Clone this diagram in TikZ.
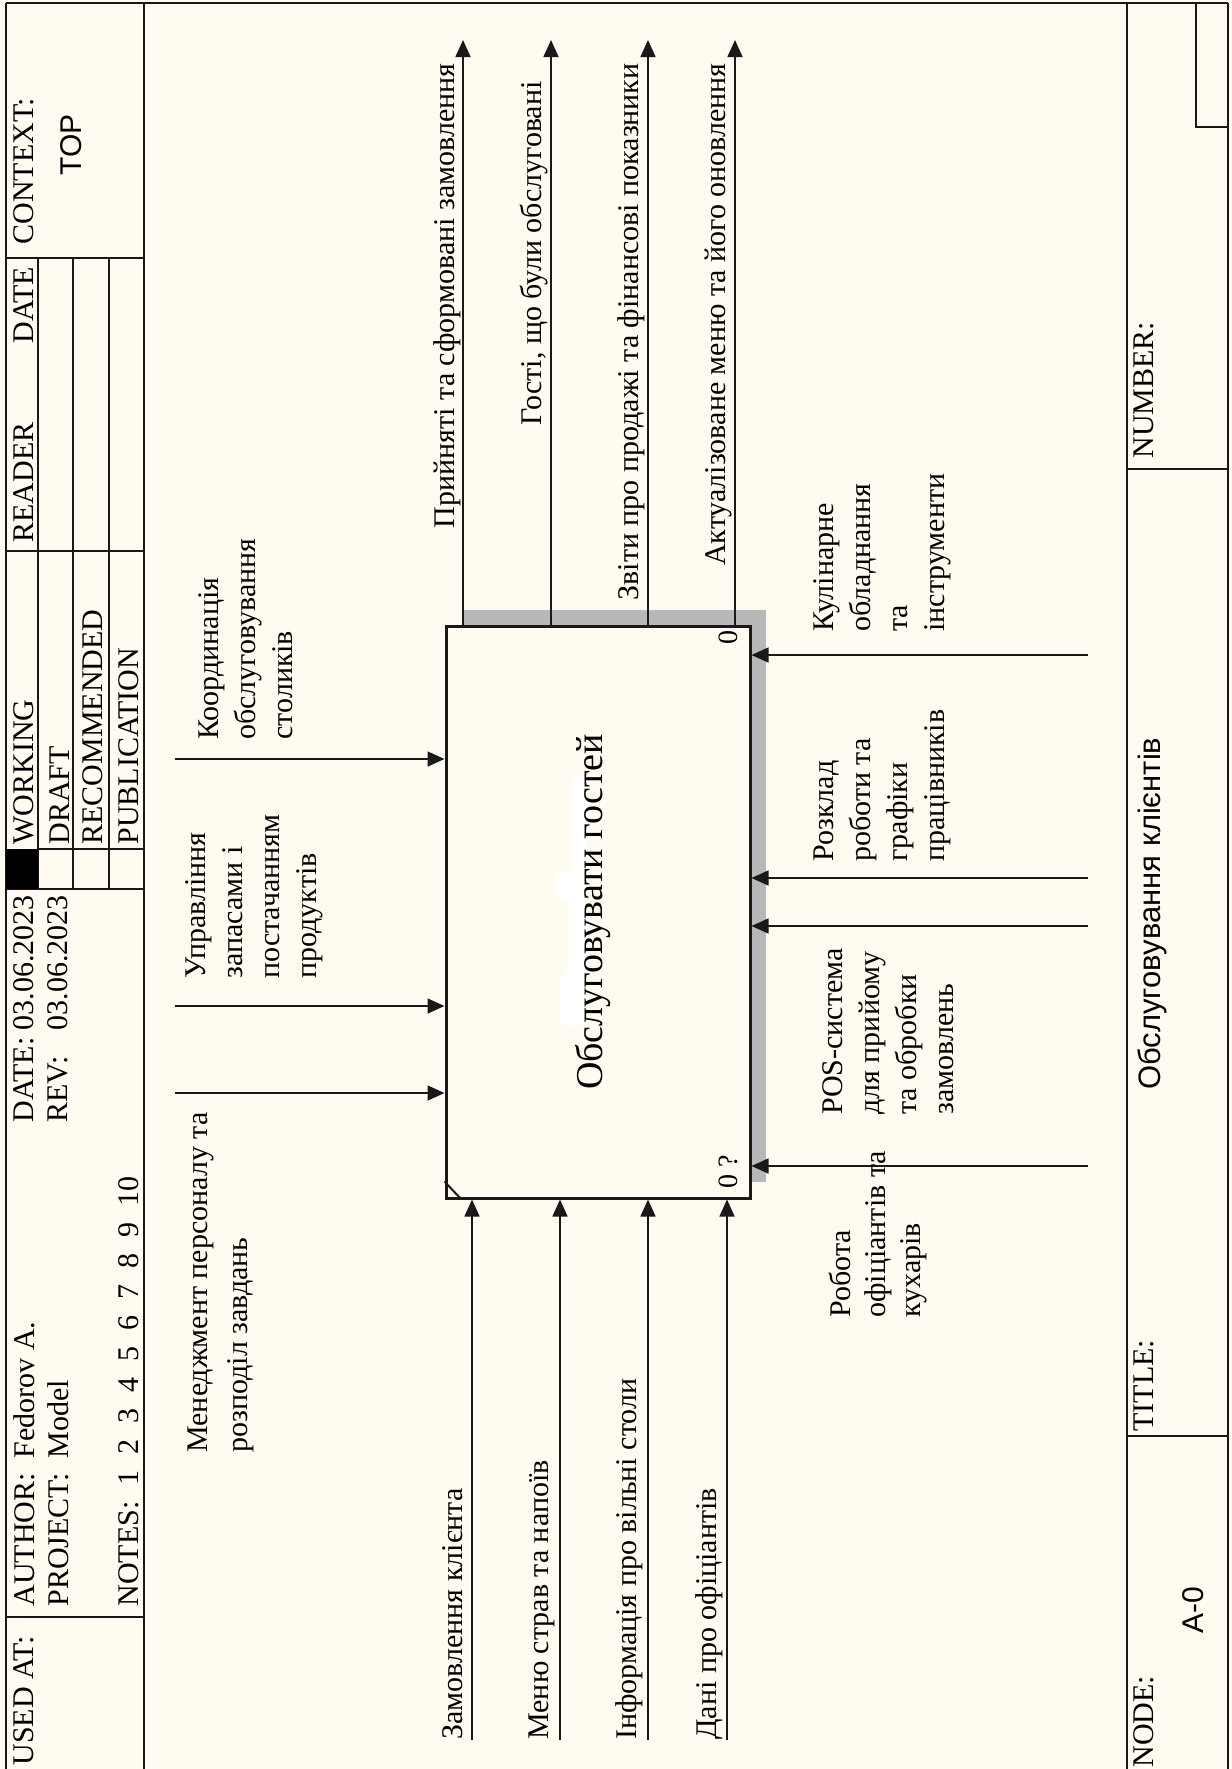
\documentclass[tikz,border=0pt]{standalone}
\usepackage{fontspec}
\setmainfont{Liberation Serif}
\setsansfont{Liberation Sans}
\usetikzlibrary{arrows.meta}
\definecolor{bg}{RGB}{255,251,240}
\definecolor{ln}{RGB}{25,25,25}
\begin{document}
\begin{tikzpicture}[x=0.5pt,y=-0.5pt,
  frame/.style={draw=ln, line width=1pt},
  arr/.style={draw=ln, line width=0.8pt, -{Triangle[length=8.5pt,width=7.5pt]}},
  lbl/.style={rotate=90, inner sep=0pt, align=left, font=\fontsize{15pt}{18.5pt}\selectfont},
  hdr/.style={rotate=90, inner sep=0pt, align=left, anchor=north west, font=\fontsize{15pt}{17pt}\selectfont},
  sanslbl/.style={rotate=90, inner sep=0pt, anchor=north west, font=\sffamily\fontsize{15pt}{18pt}\selectfont},
  corner/.style={rotate=90, inner sep=0pt, anchor=north west, font=\fontsize{14pt}{16pt}\selectfont}]
\useasboundingbox (0,0) rectangle (1232,1769);
\fill[bg] (0,0) rectangle (1232,1769);

% frame
\draw[frame] (6,3) -- (1228,3);
\draw[frame] (6,3) -- (6,1769);
\draw[frame] (1228,3) -- (1228,1769);
\draw[frame] (144,3) -- (144,1769);
\draw[frame] (6,258) -- (144,258);
\draw[frame] (6,551) -- (144,551);
\draw[frame] (38,258) -- (38,889);
\draw[frame] (73,258) -- (73,889);
\draw[frame] (109,258) -- (109,889);
\draw[frame] (38,849) -- (144,849);
\draw[frame] (6,889) -- (144,889);
\fill[black] (6,849) rectangle (38,889);
\draw[frame] (6,1617) -- (144,1617);
\draw[frame] (1127,3) -- (1127,1769);
\draw[frame] (1196,3) -- (1196,127) -- (1228,127);
\draw[frame] (1127,469) -- (1228,469);
\draw[frame] (1127,1436) -- (1228,1436);

% header texts
\node[hdr] (hctx) at (13,245) {CONTEXT:};
\node[sanslbl] (htop) at (60,176) {TOP};
\node[hdr] (hdate) at (13,344) {DATE};
\node[hdr] (hreader) at (13,543) {READER};
\node[hdr] (hwork) at (13,845) {WORKING};
\node[hdr] (hdraft) at (49,845) {DRAFT};
\node[hdr] (hrec) at (82,845) {RECOMMENDED};
\node[hdr] (hpub) at (118,845) {PUBLICATION};
\node[hdr] (hdates) at (13,1123) {DATE:\ 03.06.2023\\\rlap{REV:}\phantom{DATE:}\ 03.06.2023};
\node[hdr] (hauth) at (13,1607) {AUTHOR:\ \ Fedorov A.\\PROJECT:\ \ Model};
\node[hdr] (hnotes) at (118,1607) {NOTES:\hspace{8pt}1\hspace{8pt}2\hspace{8pt}3\hspace{8pt}4\hspace{8pt}5\hspace{8pt}6\hspace{8pt}7\hspace{8pt}8\hspace{8pt}9\hspace{8pt}10};
\node[hdr] (hused) at (13,1766) {USED AT:};
\node[hdr] (hnum) at (1133,459) {NUMBER:};
\node[hdr] (htitle) at (1133,1432) {TITLE:};
\node[hdr] (hnode) at (1133,1768) {NODE:};
\node[sanslbl, font=\sffamily\fontsize{15.5pt}{18pt}\selectfont] (htitletext) at (1137,1090) {Обслуговування клієнтів};
\node[sanslbl] (hnodeid) at (1182,1634) {A-0};

% activity box
\fill[black!28] (462,610) rectangle (766,1182);
\node[draw=ln, line width=1.5pt, fill=bg, minimum width=152pt, minimum height=286pt, inner sep=0pt] (box) at (598,912) {};
\draw[ln, line width=1pt] ([yshift=9pt]box.south west) -- ([xshift=8.5pt]box.south west);
\fill[white, rounded corners=3pt] (572,776) -- (587,776) -- (587,1000) -- (583,1026) -- (560,1026) -- (560,975) -- (567,975) -- (567,899) -- (555,899) -- (555,872) -- (572,872) -- cycle;
\node[rotate=90, anchor=base, inner sep=0pt, font=\fontsize{19pt}{22pt}\selectfont] (boxlbl) at (602,912) {Обслуговувати гостей};
\node[corner] (n0) at (718,645) {0};
\node[corner] (n0q) at (718,1189) {0 ?};

% outputs
\coordinate (o1) at (463,40);
\coordinate (o2) at (551,40);
\coordinate (o3) at (648,40);
\coordinate (o4) at (735,40);
\draw[arr] (box.north -| o1) -- (o1);
\draw[arr] (box.north -| o2) -- (o2);
\draw[arr] (box.north -| o3) -- (o3);
\draw[arr] (box.north -| o4) -- (o4);
\node[lbl, anchor=north east] (lo1) at (433,63) {Прийняті та сформовані замовлення};
\node[lbl, anchor=north east] (lo2) at (520,81) {Гості, що були обслуговані};
\node[lbl, anchor=north east] (lo3) at (617,63) {Звіти про продажі та фінансові показники};
\node[lbl, anchor=north east] (lo4) at (705,63) {Актуалізоване меню та його оновлення};

% inputs
\coordinate (i1) at (472,1740);
\coordinate (i2) at (560,1740);
\coordinate (i3) at (648,1740);
\coordinate (i4) at (727,1740);
\draw[arr] (i1) -- (i1 |- box.south);
\draw[arr] (i2) -- (i2 |- box.south);
\draw[arr] (i3) -- (i3 |- box.south);
\draw[arr] (i4) -- (i4 |- box.south);
\node[lbl, anchor=north west] (li1) at (442,1740) {Замовлення клієнта};
\node[lbl, anchor=north west] (li2) at (528,1740) {Меню страв та напоїв};
\node[lbl, anchor=north west] (li3) at (615,1740) {Інформація про вільні столи};
\node[lbl, anchor=north west] (li4) at (695,1740) {Дані про офіціантів};

% controls
\coordinate (c1) at (175,759);
\coordinate (c2) at (175,1006);
\coordinate (c3) at (175,1093);
\draw[arr] (c1) -- (c1 -| box.west);
\draw[arr] (c2) -- (c2 -| box.west);
\draw[arr] (c3) -- (c3 -| box.west);
\node[lbl, anchor=north west] (lc1) at (198,740) {Координація\\обслуговування\\столиків};
\node[lbl, anchor=north west] (lc2) at (185,979) {Управління\\запасами і\\постачанням\\продуктів};
\node[lbl, anchor=north west, font=\fontsize{15pt}{20pt}\selectfont] (lc3) at (187,1453) {Менеджмент персоналу та\\розподіл завдань};

% mechanisms
\coordinate (m1) at (1088,655);
\coordinate (m2) at (1088,878);
\coordinate (m3) at (1088,926);
\coordinate (m4) at (1088,1166);
\draw[arr] (m1) -- (m1 -| box.east);
\draw[arr] (m2) -- (m2 -| box.east);
\draw[arr] (m3) -- (m3 -| box.east);
\draw[arr] (m4) -- (m4 -| box.east);
\node[lbl, anchor=north west] (lm1) at (813,632) {Кулінарне\\обладнання\\та\\інструменти};
\node[lbl, anchor=north west] (lm2) at (813,862) {Розклад\\роботи та\\графіки\\працівників};
\node[lbl, anchor=north west] (lm3) at (822,1115) {POS-система\\для прийому\\та обробки\\замовлень};
\node[lbl, anchor=north west, font=\fontsize{15pt}{17.5pt}\selectfont] (lm4) at (829,1318) {Робота\\офіціантів та\\кухарів};
\end{tikzpicture}
\end{document}
